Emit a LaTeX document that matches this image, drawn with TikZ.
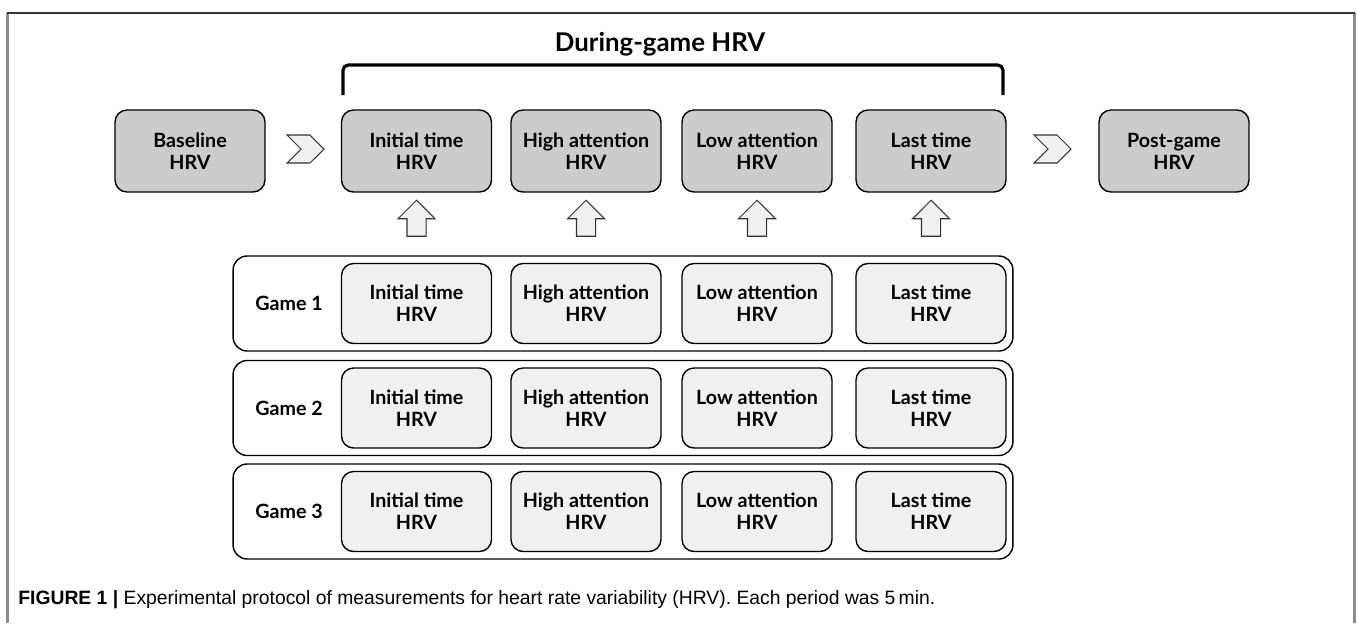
\documentclass[tikz,border=0pt]{standalone}
\usepackage{fontspec}
\setmainfont{Lato}
\newfontfamily\capfont{Liberation Sans}
\usetikzlibrary{shapes.symbols,shapes.arrows}

\definecolor{topfill}{gray}{0.8}
\definecolor{subfill}{gray}{0.94}
\definecolor{framegray}{gray}{0.55}
\definecolor{edgegray}{gray}{0.2}

\tikzset{
  boxfont/.style={font=\bfseries\fontsize{11.2}{12.4}\selectfont},
  phase/.style={draw=black, fill=topfill, rounded corners=0.24cm, line width=0.8pt,
    minimum width=3cm, minimum height=1.64cm, align=center, boxfont},
  subphase/.style={phase, fill=subfill, minimum height=1.6cm},
  gamerow/.style={draw=black, rounded corners=0.28cm, line width=0.8pt,
    minimum width=15.6cm, minimum height=1.9cm},
  nextstep/.style={signal, signal from=west, signal to=east, draw=edgegray, fill=subfill,
    line width=0.6pt, minimum width=0.74cm, minimum height=0.56cm, inner sep=0pt},
  feedup/.style={single arrow, shape border rotate=90, draw=edgegray, fill=subfill,
    line width=0.6pt, minimum height=0.72cm, inner xsep=0.18cm, inner ysep=0pt,
    single arrow head extend=0.18cm}
}

\begin{document}
\begin{tikzpicture}[x=0.02cm, y=-0.02cm]

\def \toprow {151}

\useasboundingbox (0,0) rectangle (1357,623);

% Frame
\draw[framegray, line width=1.2pt] (7.5,13) -- (7.5,623);
\draw[framegray, line width=1.2pt] (1354.5,13) -- (1354.5,623);
\draw[edgegray, line width=1pt] (7,13) -- (1355,13);

% Before and after the games
\node[phase] (baseline) at (190,\toprow) {Baseline\\HRV};
\node[phase] (postgame) at (1174,\toprow) {Post-game\\HRV};

\node[nextstep] (chev1) at (305.5,149) {};
\node[nextstep] (chev2) at (1052.5,149) {};

% During-game phases
\foreach \id/\x/\txt in {initial/416.5/Initial time, high/586/High attention,
                         low/757/Low attention, last/931/Last time} {
  \node[phase] (\id) at (\x,\toprow) {\txt\\HRV};
  \node[feedup] (up\id) at (\x,223) {};
}

% Bracket
\node[font=\bfseries\fontsize{14.7}{16}\selectfont] (during) at (660,44) {During-game HRV};
\coordinate (brleft) at (343,95);
\coordinate (brright) at (1003,95);
\draw[line width=1.8pt, rounded corners=3pt] (brleft) |- (672,65) -| (brright);

% Games
\foreach \g/\y in {1/303.5, 2/408, 3/511.5} {
  \node[gamerow] (game\g) at (623,\y) {};
  \node[boxfont] (label\g) at (289,\y) {Game \g};
  \foreach \id/\x/\txt in {initial/416.5/Initial time, high/586/High attention,
                           low/757/Low attention, last/931/Last time} {
    \node[subphase] (\id\g) at (\x,\y) {\txt\\HRV};
  }
}

% Caption
\node[anchor=west, inner sep=0pt, font=\capfont\fontsize{11}{12}\selectfont] (caption) at (18,600)
  {\textbf{FIGURE 1 |} Experimental protocol of measurements for heart rate variability (HRV). Each period was 5\,min.};

\end{tikzpicture}
\end{document}
